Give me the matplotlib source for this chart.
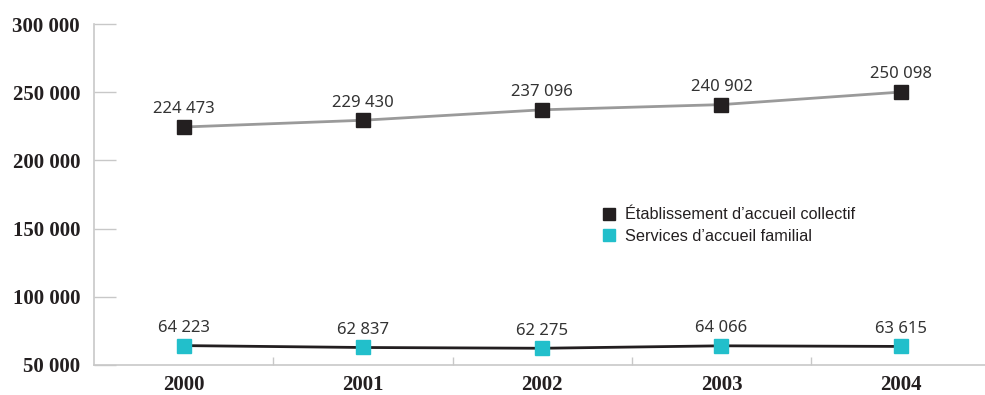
import matplotlib.pyplot as plt
from matplotlib.lines import Line2D

years = ["2000", "2001", "2002", "2003", "2004"]
collectif = [224473, 229430, 237096, 240902, 250098]
familial = [64223, 62837, 62275, 64066, 63615]
y_ticks = [50000, 100000, 150000, 200000, 250000, 300000]

dark = "#231f20"
cyan = "#22bfcb"
grey_line = "#9a9a9a"
axis_grey = "#c8c8c8"


def fmt(v):
    return f"{v:,}".replace(",", " ")


fig = plt.figure(figsize=(9.85, 3.95), dpi=100)
ax = fig.add_axes([94 / 985, 30 / 395, 891 / 985, 341 / 395])

x = list(range(len(years)))
ax.plot(x, collectif, color=grey_line, linewidth=2, zorder=2)
ax.plot(x, collectif, linestyle="none", marker="s", markersize=10,
        color=dark, zorder=3)
ax.plot(x, familial, color=dark, linewidth=2, zorder=2)
ax.plot(x, familial, linestyle="none", marker="s", markersize=10,
        color=cyan, zorder=3)

for xi, v in zip(x, collectif):
    ax.annotate(fmt(v), (xi, v), xytext=(0, 7), textcoords="offset points",
                ha="center", va="bottom", fontsize=12, color="#333333",
                family="Noto Sans", fontweight="light")
for xi, v in zip(x, familial):
    ax.annotate(fmt(v), (xi, v), xytext=(0, 7), textcoords="offset points",
                ha="center", va="bottom", fontsize=12, color="#333333",
                family="Noto Sans", fontweight="light")

ax.set_xlim(-0.5, 4.47)
ax.set_ylim(50000, 300000)

ax.set_yticks(y_ticks)
ax.set_yticklabels([fmt(v) for v in y_ticks], family="Liberation Serif",
                   fontweight="bold", fontsize=15, color=dark)
ax.tick_params(axis="y", direction="in", length=16, width=1, color=axis_grey, pad=10)

ax.set_xticks(x)
ax.set_xticklabels(years, family="Liberation Serif", fontweight="bold",
                   fontsize=15, color=dark)
ax.tick_params(axis="x", which="major", length=0, pad=7)
ax.set_xticks([0.5, 1.5, 2.5, 3.5], minor=True)
ax.tick_params(axis="x", which="minor", direction="in", length=6, width=1,
               color=axis_grey)

for s in ["top", "right"]:
    ax.spines[s].set_visible(False)
for s in ["left", "bottom"]:
    ax.spines[s].set_color(axis_grey)
    ax.spines[s].set_linewidth(1.2)

handles = [
    Line2D([], [], linestyle="none", marker="s", markersize=9, color=dark),
    Line2D([], [], linestyle="none", marker="s", markersize=9, color=cyan),
]
ax.legend(handles, ["Établissement d’accueil collectif", "Services d’accueil familial"],
          loc="upper left", bbox_to_anchor=(0.553, 0.505), frameon=False,
          prop={"family": "Liberation Sans", "size": 11.7},
          handletextpad=0.45, labelspacing=0.4, handlelength=1.0,
          labelcolor=dark)

plt.savefig("out.png", dpi=100, facecolor="white")
